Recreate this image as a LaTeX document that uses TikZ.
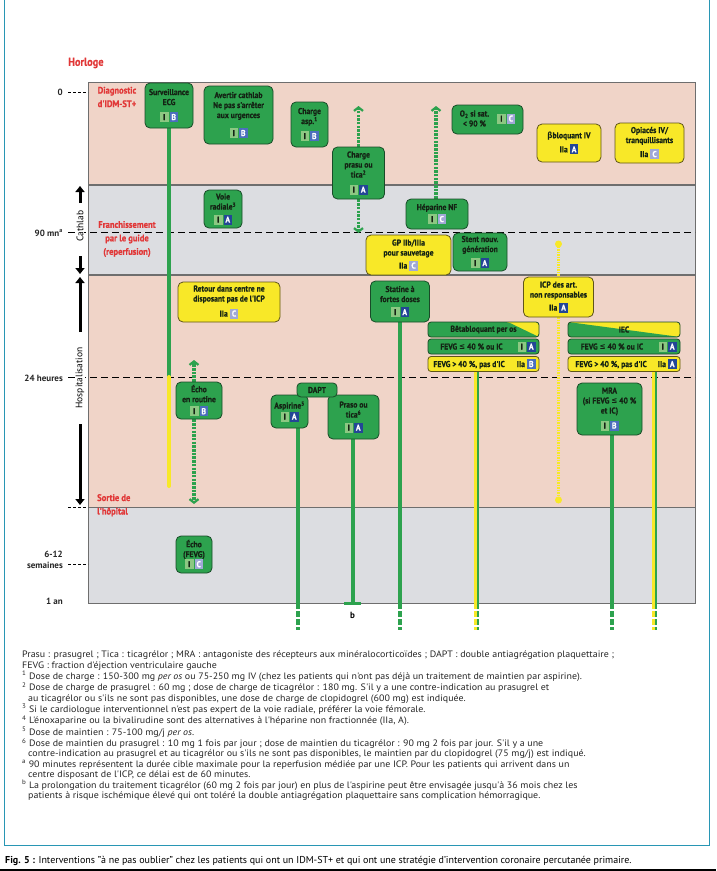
\documentclass[tikz,border=0pt]{standalone}
\usepackage{fontspec}
\setmainfont{PT Sans}
\newfontfamily\cond[FakeStretch=0.9,BoldFeatures={FakeBold=0.6}]{PT Sans}
\newfontfamily\fnf[FakeStretch=1.07]{PT Sans}
\newfontfamily\djv[FakeStretch=0.85]{DejaVu Sans}
\usetikzlibrary{arrows.meta,calc}
\definecolor{cPink}{RGB}{240,212,200}
\definecolor{cGray}{RGB}{220,221,225}
\definecolor{cBand}{RGB}{110,110,110}
\definecolor{cG}{RGB}{45,162,78}
\definecolor{cGd}{RGB}{25,75,40}
\definecolor{cY}{RGB}{248,232,40}
\definecolor{cYd}{RGB}{95,85,25}
\definecolor{cInk}{RGB}{20,35,20}
\definecolor{cLg}{RGB}{140,200,130}
\definecolor{cA}{RGB}{35,70,150}
\definecolor{cB}{RGB}{75,110,190}
\definecolor{cC}{RGB}{160,168,215}
\definecolor{cRed}{RGB}{225,55,55}
\definecolor{cTeal}{RGB}{40,150,180}
\pgfdeclarelayer{bands}\pgfdeclarelayer{lines}
\pgfsetlayers{bands,lines,main}
\newcommand\cbox[3]{{\fboxsep=0pt\colorbox{#1}{\rule[-2pt]{0pt}{10pt}\makebox[8.5pt]{\color{#2}#3}}}}
\newcommand\bgI{\cbox{cLg}{cInk}{I}}
\newcommand\bgA{\cbox{cA}{white}{A}}
\newcommand\bgB{\cbox{cB}{white}{B}}
\newcommand\bgC{\cbox{cC}{white}{C}}
\newcommand\evIA{\bgI\hspace{1pt}\bgA}
\newcommand\evIB{\bgI\hspace{1pt}\bgB}
\newcommand\evIC{\bgI\hspace{1pt}\bgC}
\newcommand\evIIaA{IIa\hspace{2pt}\bgA}
\newcommand\evIIaB{IIa\hspace{2pt}\bgB}
\newcommand\evIIaC{IIa\hspace{2pt}\bgC}
\newcommand\leqs{{\djv\bfseries ≤}}
\newcommand\betas{{\djv\bfseries β}}
\tikzset{
  bx/.style={rounded corners=5pt, line width=0.8pt, align=center, inner sep=1pt,
    font=\cond\bfseries\fontsize{8.5}{10}\selectfont, text=cInk},
  gbox/.style={bx, fill=cG, draw=cGd},
  ybox/.style={bx, fill=cY, draw=cYd},
  rowbox/.style={bx, rounded corners=3pt, minimum height=15pt},
  hdrbeta/.style={rowbox, fill=cY, draw=cGd, path picture={
    \fill[cG] (path picture bounding box.north west) -- ($(path picture bounding box.north west)!0.72!(path picture bounding box.north east)$) -- (path picture bounding box.south east) -- (path picture bounding box.south west) -- cycle;}},
  hdriec/.style={rowbox, fill=cY, draw=cGd, path picture={
    \fill[cG] (path picture bounding box.north west) -- (path picture bounding box.south east) -- (path picture bounding box.south west) -- cycle;}},
  redlab/.style={text=cRed, align=center, font=\cond\bfseries\fontsize{9.5}{13.5}\selectfont, inner sep=0pt},
  ticklab/.style={anchor=east, inner sep=0pt, font=\bfseries\fontsize{9}{10}\selectfont, text=black!85, align=right},
  tickdash/.style={black, line width=0.8pt, dash pattern=on 3pt off 2pt},
  hdash/.style={black, line width=0.9pt, dash pattern=on 7pt off 4pt},
  solidg/.style={cG, line width=4pt},
  solidy/.style={cY, line width=4pt},
  dashg/.style={cG, line width=4pt, dash pattern=on 6pt off 2pt},
  dashy/.style={cY, line width=4pt, dash pattern=on 6pt off 2pt},
  dotg/.style={cG, line width=3.5pt, dash pattern=on 2.5pt off 1.2pt},
  doty/.style={cY, line width=3pt, dash pattern=on 1.5pt off 1pt},
  chev/.style={-{Straight Barb[length=3.5pt,width=9pt,line width=2.2pt]}},
  axarr/.style={black, line width=3pt, -{Triangle[length=6pt,width=9pt]}},
  axlab/.style={rotate=90, inner sep=1pt, fill=white, font=\fontsize{9.5}{10}\selectfont}
}
\begin{document}
\begin{tikzpicture}[x=1pt,y=-1pt]
\useasboundingbox (0,0) rectangle (716,871);
% bands
\begin{pgfonlayer}{bands}
\fill[white] (0,0) rectangle (716,871);
\fill[cPink] (88,82) rectangle (695,185);
\fill[cGray] (88,185) rectangle (695,275);
\fill[cPink] (88,275) rectangle (695,507);
\fill[cGray] (88,507) rectangle (695,603);
\draw[cBand, line width=0.9pt] (88,82) rectangle (695,603);
\draw[cBand, line width=1.2pt] (88,185) -- (695,185);
\draw[cBand, line width=1.2pt] (88,275) -- (695,275);
\draw[cBand, line width=0.9pt] (88,507) -- (695,507);
\end{pgfonlayer}
% frame
\draw[cTeal, line width=1pt] (4,0) -- (4,845) -- (709,845) -- (709,0);
\draw[black, line width=1.4pt] (0,870) -- (716,870);
% left scale
\node[text=cRed, font=\cond\bfseries\fontsize{11.5}{13}\selectfont, anchor=west, inner sep=0pt] (horl) at (68,63) {Horloge};
\node[ticklab] (t0) at (63,92) {0};
\node[ticklab] (t90) at (63,233) {90 mn\textsuperscript{a}};
\node[ticklab] (t24) at (63,378) {24 heures};
\node[ticklab, font=\bfseries\fontsize{9}{10.5}\selectfont] (t612) at (63,560) {6-12\\semaines};
\node[ticklab] (t1an) at (63,601) {1 an};
\draw[tickdash] (68,92) -- (88,92);
\draw[tickdash] (68,507) -- (88,507);
\draw[tickdash] (68,564) -- (88,564);
% dashed levels
\begin{pgfonlayer}{lines}
\draw[hdash] (68,232) -- (695,232);
\draw[hdash] (68,377) -- (695,377);
\end{pgfonlayer}
\node[axlab] (cath) at (80,226) {Cathlab};
\node[axlab] (hosp) at (80,378) {Hospitalisation};
\coordinate (a1s) at (80,203); \coordinate (a1e) at (80,186);
\coordinate (a2s) at (80,256); \coordinate (a2e) at (80,274);
\coordinate (a3s) at (80,332); \coordinate (a3e) at (80,277);
\coordinate (a4s) at (80,424); \coordinate (a4e) at (80,505);
\draw[axarr] (a1s) -- (a1e);
\draw[axarr] (a2s) -- (a2e);
\draw[axarr] (a3s) -- (a3e);
\draw[axarr] (a4s) -- (a4e);
% red labels
\node[redlab] (diag) at (117,97) {Diagnostic\\d'IDM-ST+};
\node[redlab] (franch) at (127,239) {Franchissement\\par le guide\\(reperfusion)};
\node[redlab, align=left, anchor=north west] (sortie) at (97,494) {Sortie de\\l'hôpital};
% boxes
\node[gbox, minimum width=48pt, minimum height=45pt] (surv) at (169,105.5) {Surveillance\\ECG\\[5pt]\evIB};
\node[gbox, minimum width=69pt, minimum height=58pt] (avert) at (238.5,115) {Avertir cathlab\\Ne pas s'arrêter\\aux urgences\\[8pt]\evIB};
\node[gbox, minimum width=37pt, minimum height=45pt] (asp) at (309.5,124.5) {Charge\\asp.\textsuperscript{1}\\[5pt]\evIB};
\node[gbox, minimum width=52pt, minimum height=52pt] (prasu) at (358.5,173) {Charge\\prasu ou\\tica\textsuperscript{2}\\[5pt]\evIA};
\node[gbox, minimum width=62pt, minimum height=30pt] (hepar) at (437,214) {Héparine NF\\[2pt]\evIC};
\node[gbox, minimum width=71pt, minimum height=29pt] (otwo) at (487.5,119.5) {\begin{tabular}{@{}c@{}}O\textsubscript{2} si sat.\\< 90 \%\end{tabular}\hspace{8pt}\evIC};
\node[ybox, minimum width=64pt, minimum height=38pt] (bblo) at (569,143) {\betas bloquant IV\\[4pt]\evIIaA};
\node[ybox, minimum width=69pt, minimum height=40pt] (opi) at (649.5,143) {Opiacés IV/\\tranquillisants\\[4pt]\evIIaC};
\node[gbox, minimum width=38pt, minimum height=38pt] (voie) at (223,209) {Voie\\radiale\textsuperscript{3}\\[3pt]\evIA};
\node[ybox, minimum width=85pt, minimum height=40pt] (gp) at (408.5,255) {GP IIb/IIIa\\pour sauvetage\\[3pt]\evIIaC};
\node[gbox, minimum width=54pt, minimum height=38pt] (stent) at (480,252) {Stent nouv.\\génération\\[4pt]\evIA};
\node[ybox, minimum width=70pt, minimum height=40pt] (icp) at (558.5,297) {ICP des art.\\non responsables\\[3pt]\evIIaA};
\node[ybox, minimum width=102pt, minimum height=40pt] (retour) at (229,302) {Retour dans centre ne\\disposant pas de l'ICP\\[5pt]\evIIaC};
\node[gbox, minimum width=59pt, minimum height=41pt] (statine) at (400,301.5) {Statine à\\fortes doses\\[3pt]\evIA};
\node[hdrbeta, minimum width=111pt] (betaH) at (483.5,329.5) {Bêtabloquant per os};
\node[rowbox, fill=cG, draw=cGd, minimum width=111pt] (betaG) at (483.5,346.5) {\makebox[104pt]{\hfill FEVG \leqs{} 40 \% ou IC\hfill\hspace{6pt}\evIA}};
\node[rowbox, fill=cY, draw=cYd, minimum width=111pt] (betaY) at (483.5,364) {\makebox[104pt]{\hspace{2pt}FEVG > 40 \%, pas d'IC\hfill\evIIaB}};
\node[hdriec, minimum width=112pt] (iecH) at (624,329.5) {IEC};
\node[rowbox, fill=cG, draw=cGd, minimum width=112pt] (iecG) at (624,346.5) {\makebox[105pt]{\hfill FEVG \leqs{} 40 \% ou IC\hfill\hspace{6pt}\evIA}};
\node[rowbox, fill=cY, draw=cYd, minimum width=112pt] (iecY) at (624,364) {\makebox[105pt]{\hspace{4pt}FEVG > 40 \%, pas d'IC\hfill\evIIaA}};
\node[gbox, minimum width=65pt, minimum height=52pt] (mra) at (609.5,409) {MRA\\(si FEVG \leqs{} 40 \%\\et IC)\\[5pt]\evIB};
\node[gbox, minimum width=46pt, minimum height=37pt] (echo) at (199,400.5) {Écho\\en routine\\[2pt]\evIB};
\node[gbox, minimum width=37pt, minimum height=33pt] (aspi) at (289.5,411.5) {Aspirine\textsuperscript{5}\\[1pt]\evIA};
\node[gbox, minimum width=51pt, minimum height=44pt] (praso) at (353.5,417) {Praso ou\\tica\textsuperscript{6}\\[3pt]\evIA};
\node[gbox, rounded corners=4pt, minimum width=40pt, minimum height=14pt] (dapt) at (317,390) {DAPT};
\node[gbox, minimum width=36pt, minimum height=37pt] (echof) at (194,554.5) {Écho\\(FEVG)\\[0pt]\evIC};
% connectors
\begin{pgfonlayer}{lines}
\coordinate (survM) at (169,377); \coordinate (survE) at (169,486);
\draw[solidg] (surv.south) -- (survM);
\draw[solidy, line cap=round] (survM) -- (survE);
\coordinate (prT) at (358.5,106); \coordinate (prB) at (358.5,233);
\draw[dotg, chev] (prasu.north) -- (prT);
\draw[dotg, chev] (prasu.south) -- (prB);
\coordinate (hpT) at (436,106);
\draw[dotg, chev] (hepar.north -| hpT) -- (hpT);
\coordinate (ecT) at (194,360); \coordinate (ecB) at (194,504);
\draw[dotg, chev] (echo.north -| ecT) -- (ecT);
\draw[dotg, chev] (echo.south -| ecB) -- (ecB);
\coordinate (icT) at (558.5,244); \coordinate (icB) at (558.5,500);
\draw[doty] (icT) -- (icp.north);
\draw[doty] (icp.south) -- (icB);
\fill[cY] (icT) circle (3.5pt);
\fill[cY] (icB) circle (3.5pt);
\coordinate (stM) at (400,603); \coordinate (stE) at (400,630);
\draw[solidg] (statine.south) -- (stM);
\draw[dashg] (stM) -- (stE);
\coordinate (btM) at (476,603); \coordinate (btE) at (476,630);
\draw[solidg, line width=5pt] (betaY.south -| btM) -- (btM);
\draw[dashg, line width=5pt] (btM) -- (btE);
\draw[cY, line width=3pt] ($(betaY.south -| btM)+(-0.8,0)$) -- ($(btM)+(-0.8,0)$);
\draw[dashy, line width=3pt] ($(btM)+(-0.8,0)$) -- ($(btE)+(-0.8,0)$);
\coordinate (ieM) at (654,603); \coordinate (ieE) at (654,630);
\draw[solidg, line width=5pt] (iecY.south -| ieM) -- (ieM);
\draw[dashg, line width=5pt] (ieM) -- (ieE);
\draw[cY, line width=3pt] ($(iecY.south -| ieM)+(-0.8,0)$) -- ($(ieM)+(-0.8,0)$);
\draw[dashy, line width=3pt] ($(ieM)+(-0.8,0)$) -- ($(ieE)+(-0.8,0)$);
\coordinate (mrM) at (612,603); \coordinate (mrE) at (612,630);
\draw[solidg] (mra.south -| mrM) -- (mrM);
\draw[dashg] (mrM) -- (mrE);
\coordinate (asM) at (298,603); \coordinate (asE) at (298,630);
\draw[solidg] (aspi.south -| asM) -- (asM);
\draw[dashg] (asM) -- (asE);
\coordinate (psE) at (352.5,603); \coordinate (psL) at (344,603); \coordinate (psR) at (361,603);
\draw[solidg] (praso.south -| psE) -- (psE);
\draw[cG, line width=3pt] (psL) -- (psR);
\end{pgfonlayer}
\node[font=\bfseries\fontsize{9}{10}\selectfont, inner sep=0pt] (blab) at (352.5,615) {b};
% footnotes
\node[anchor=north west, align=left, inner sep=0pt, font=\fnf\fontsize{9.3}{10.15}\selectfont, text=black!85] (notes) at (22,651) {%
Prasu : prasugrel ; Tica : ticagrélor ; MRA : antagoniste des récepteurs aux minéralocorticoïdes ; DAPT : double antiagrégation plaquettaire ;\\
FEVG : fraction d'éjection ventriculaire gauche\\
\textsuperscript{1} Dose de charge : 150-300 mg \textit{per os} ou 75-250 mg IV (chez les patients qui n'ont pas déjà un traitement de maintien par aspirine).\\
\textsuperscript{2} Dose de charge de prasugrel : 60 mg ; dose de charge de ticagrélor : 180 mg. S'il y a une contre-indication au prasugrel et\\
\hspace*{6pt}au ticagrélor ou s'ils ne sont pas disponibles, une dose de charge de clopidogrel (600 mg) est indiquée.\\
\textsuperscript{3} Si le cardiologue interventionnel n'est pas expert de la voie radiale, préférer la voie fémorale.\\
\textsuperscript{4} L'énoxaparine ou la bivalirudine sont des alternatives à l'héparine non fractionnée (IIa, A).\\
\textsuperscript{5} Dose de maintien : 75-100 mg/j \textit{per os}.\\
\textsuperscript{6} Dose de maintien du prasugrel : 10 mg 1 fois par jour ; dose de maintien du ticagrélor : 90 mg 2 fois par jour. S'il y a une\\
\hspace*{6pt}contre-indication au prasugrel et au ticagrélor ou s'ils ne sont pas disponibles, le maintien par du clopidogrel (75 mg/j) est indiqué.\\
\textsuperscript{a} 90 minutes représentent la durée cible maximale pour la reperfusion médiée par une ICP. Pour les patients qui arrivent dans un\\
\hspace*{6pt}centre disposant de l'ICP, ce délai est de 60 minutes.\\
\textsuperscript{b} La prolongation du traitement ticagrélor (60 mg 2 fois par jour) en plus de l'aspirine peut être envisagée jusqu'à 36 mois chez les\\
\hspace*{6pt}patients à risque ischémique élevé qui ont toléré la double antiagrégation plaquettaire sans complication hémorragique.};
% caption
\node[anchor=west, inner sep=0pt, font=\fontsize{10}{11}\selectfont] (capt) at (5,861) {\textbf{Fig. 5 :} Interventions "à ne pas oublier" chez les patients qui ont un IDM-ST+ et qui ont une stratégie d'intervention coronaire percutanée primaire.};
\end{tikzpicture}
\end{document}
